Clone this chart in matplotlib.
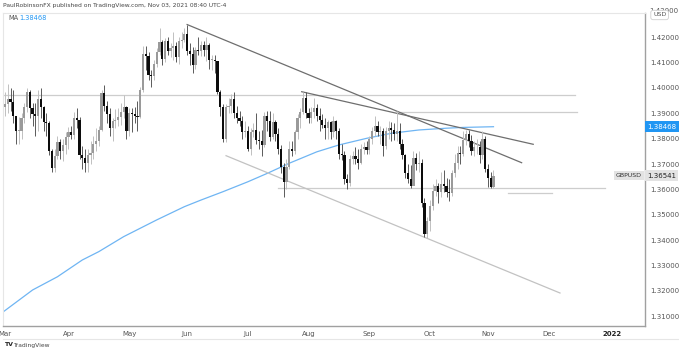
import matplotlib
matplotlib.use('Agg')
import matplotlib.pyplot as plt
from matplotlib.transforms import blended_transform_factory

# ---------------- data (GBPUSD daily, Mar 1 - Nov 3 2021) ----------------
closes = [
    # Mar
    1.3935, 1.3955, 1.3945, 1.3890, 1.3830, 1.3830, 1.3880, 1.3925, 1.3985, 1.3920,
    1.3895, 1.3890, 1.3955, 1.3925, 1.3865, 1.3860, 1.3750, 1.3685, 1.3730, 1.3785,
    1.3750, 1.3775, 1.3805,
    # Apr
    1.3825, 1.3815, 1.3880, 1.3875, 1.3735, 1.3725, 1.3705, 1.3735, 1.3745, 1.3780,
    1.3790, 1.3835, 1.3980, 1.3930, 1.3895, 1.3840, 1.3870, 1.3875, 1.3885, 1.3905,
    1.3925, 1.3830,
    # May
    1.3900, 1.3895, 1.3890, 1.3885, 1.3990, 1.4135, 1.4125, 1.4050, 1.4045, 1.4095,
    1.4140, 1.4180, 1.4115, 1.4185, 1.4145, 1.4155, 1.4165, 1.4120, 1.4185, 1.4190,
    1.4210,
    # Jun
    1.4145, 1.4135, 1.4090, 1.4150, 1.4145, 1.4170, 1.4150, 1.4170, 1.4110, 1.4110,
    1.4105, 1.3985, 1.3925, 1.3800, 1.3925, 1.3930, 1.3955, 1.3900, 1.3880, 1.3870,
    1.3825, 1.3830,
    # Jul
    1.3760, 1.3825, 1.3835, 1.3795, 1.3790, 1.3775, 1.3890, 1.3870, 1.3805, 1.3865,
    1.3820, 1.3760, 1.3690, 1.3630, 1.3690, 1.3760, 1.3750, 1.3825, 1.3880, 1.3905,
    1.3960, 1.3900,
    # Aug
    1.3880, 1.3905, 1.3920, 1.3890, 1.3875, 1.3855, 1.3840, 1.3865, 1.3825, 1.3870,
    1.3830, 1.3740, 1.3735, 1.3640, 1.3625, 1.3720, 1.3730, 1.3720, 1.3705, 1.3760,
    1.3765, 1.3755,
    # Sep
    1.3800, 1.3830, 1.3850, 1.3825, 1.3830, 1.3770, 1.3830, 1.3840, 1.3835, 1.3820,
    1.3830, 1.3780, 1.3735, 1.3665, 1.3640, 1.3615, 1.3725, 1.3700, 1.3705, 1.3545,
    1.3425, 1.3475,
    # Oct
    1.3535, 1.3595, 1.3615, 1.3590, 1.3620, 1.3615, 1.3590, 1.3585, 1.3665, 1.3705,
    1.3745, 1.3740, 1.3795, 1.3820, 1.3790, 1.3750, 1.3765, 1.3765, 1.3735, 1.3800,
    1.3680,
    # Nov
    1.3645, 1.3610, 1.36541,
]
highs = [
    1.3985, 1.4015, 1.4000, 1.3990, 1.3890, 1.3885, 1.3900, 1.3940, 1.4000, 1.3990,
    1.3940, 1.3940, 1.3990, 1.4000, 1.3930, 1.3900, 1.3870, 1.3760, 1.3760, 1.3810,
    1.3800, 1.3800, 1.3825,
    1.3845, 1.3850, 1.3905, 1.3920, 1.3885, 1.3770, 1.3760, 1.3760, 1.3790, 1.3810,
    1.3840, 1.3850, 1.3990, 1.4010, 1.3950, 1.3920, 1.3880, 1.3915, 1.3920, 1.3940,
    1.3970, 1.3930,
    1.3920, 1.3920, 1.3925, 1.3950, 1.4005, 1.4165, 1.4165, 1.4140, 1.4070, 1.4110,
    1.4155, 1.4235, 1.4190, 1.4195, 1.4200, 1.4175, 1.4220, 1.4180, 1.4200, 1.4220,
    1.4235,
    1.4249, 1.4175, 1.4160, 1.4160, 1.4200, 1.4185, 1.4185, 1.4200, 1.4175, 1.4130,
    1.4130, 1.4105, 1.3990, 1.3935, 1.3935, 1.3960, 1.3975, 1.3985, 1.3930, 1.3910,
    1.3890, 1.3870,
    1.3850, 1.3840, 1.3860, 1.3900, 1.3830, 1.3835, 1.3905, 1.3910, 1.3910, 1.3900,
    1.3875, 1.3840, 1.3775, 1.3705, 1.3720, 1.3790, 1.3790, 1.3835, 1.3895, 1.3920,
    1.3985, 1.3985,
    1.3920, 1.3925, 1.3960, 1.3935, 1.3920, 1.3895, 1.3880, 1.3875, 1.3870, 1.3890,
    1.3875, 1.3840, 1.3780, 1.3750, 1.3660, 1.3735, 1.3750, 1.3765, 1.3760, 1.3780,
    1.3785, 1.3790,
    1.3810, 1.3845, 1.3890, 1.3870, 1.3850, 1.3840, 1.3845, 1.3870, 1.3865, 1.3860,
    1.3910, 1.3860, 1.3800, 1.3740, 1.3700, 1.3695, 1.3750, 1.3745, 1.3750, 1.3720,
    1.3565, 1.3490,
    1.3560, 1.3620, 1.3640, 1.3625, 1.3670, 1.3675, 1.3645, 1.3640, 1.3675, 1.3740,
    1.3770, 1.3770, 1.3830, 1.3835, 1.3835, 1.3815, 1.3790, 1.3800, 1.3790, 1.3830,
    1.3810,
    1.3700, 1.3670, 1.3675,
]
lows = [
    1.3890, 1.3900, 1.3910, 1.3860, 1.3780, 1.3780, 1.3800, 1.3860, 1.3905, 1.3880,
    1.3850, 1.3810, 1.3830, 1.3880, 1.3830, 1.3810, 1.3735, 1.3670, 1.3670, 1.3720,
    1.3720, 1.3710, 1.3740,
    1.3760, 1.3800, 1.3800, 1.3840, 1.3720, 1.3680, 1.3670, 1.3670, 1.3700, 1.3720,
    1.3750, 1.3770, 1.3830, 1.3910, 1.3860, 1.3810, 1.3790, 1.3840, 1.3850, 1.3855,
    1.3880, 1.3800,
    1.3810, 1.3825, 1.3860, 1.3830, 1.3880, 1.3985, 1.4070, 1.4030, 1.4005, 1.4030,
    1.4080, 1.4130, 1.4090, 1.4100, 1.4130, 1.4120, 1.4110, 1.4100, 1.4095, 1.4155,
    1.4180,
    1.4130, 1.4090, 1.4060, 1.4075, 1.4130, 1.4125, 1.4125, 1.4105, 1.4075, 1.4070,
    1.4060, 1.3975, 1.3890, 1.3785, 1.3785, 1.3900, 1.3900, 1.3880, 1.3860, 1.3850,
    1.3800, 1.3805,
    1.3750, 1.3735, 1.3805, 1.3780, 1.3760, 1.3730, 1.3765, 1.3830, 1.3790, 1.3800,
    1.3790, 1.3740, 1.3665, 1.3572, 1.3600, 1.3680, 1.3730, 1.3740, 1.3800, 1.3840,
    1.3895, 1.3880,
    1.3860, 1.3860, 1.3880, 1.3870, 1.3830, 1.3840, 1.3800, 1.3800, 1.3800, 1.3805,
    1.3800, 1.3720, 1.3715, 1.3620, 1.3600, 1.3615, 1.3700, 1.3700, 1.3680, 1.3700,
    1.3740, 1.3740,
    1.3740, 1.3780, 1.3810, 1.3810, 1.3780, 1.3730, 1.3760, 1.3800, 1.3790, 1.3795,
    1.3790, 1.3760, 1.3720, 1.3645, 1.3625, 1.3605, 1.3620, 1.3675, 1.3670, 1.3530,
    1.3412, 1.3410,
    1.3435, 1.3520, 1.3575, 1.3545, 1.3570, 1.3590, 1.3570, 1.3555, 1.3575, 1.3650,
    1.3680, 1.3700, 1.3730, 1.3775, 1.3765, 1.3735, 1.3730, 1.3740, 1.3705, 1.3720,
    1.3670,
    1.3610, 1.3605, 1.3605,
]
first_open = 1.3925
opens = [first_open] + closes[:-1]

# moving average (bar index, value)
ma_idx = [-1, 10, 19, 28, 34, 43, 55, 65, 71, 79, 88, 95, 103, 113, 121, 131, 140, 150, 160, 166, 177]
ma_val = [1.3115, 1.3204, 1.3256, 1.3322, 1.3355, 1.3414, 1.3480, 1.3532, 1.3558, 1.3591,
          1.3630, 1.3663, 1.3703, 1.3748, 1.3775, 1.3801, 1.3821, 1.3834, 1.3841, 1.3844, 1.38468]

# time axis labels (bar index of first trading day)
month_labels = ['Mar', 'Apr', 'May', 'Jun', 'Jul', 'Aug', 'Sep', 'Oct', 'Nov', 'Dec', '2022']
month_idx = [0, 23, 45, 66, 88, 110, 132, 154, 175, 197, 220]

price_ticks = [1.31, 1.32, 1.33, 1.34, 1.35, 1.36, 1.37, 1.38, 1.39, 1.40, 1.41, 1.42]

# drawn objects: (x0, y0, x1, y1) in bar index / price
trend_dark = [(66, 1.4249, 187.2, 1.37051), (107.5, 1.39846, 191.4, 1.37776)]
trend_light = [(80.1, 1.37327, 201.1, 1.31921)]
hlines = [(1.3972, -2, 206.5), (1.3906, 143.1, 207.2), (1.3604, 98.9, 217.4), (1.3585, 182.3, 198.1)]

ma_last = 1.38468
last_price = 1.36541

# ---------------- figure ----------------
W, H = 679, 351
fig = plt.figure(figsize=(W / 100, H / 100), dpi=100)
fig.patch.set_facecolor('white')
plt.rcParams['font.family'] = ['DejaVu Sans']

ax_l, ax_r, ax_t, ax_b = 3, 645, 13, 326
ax = fig.add_axes([ax_l / W, 1 - ax_b / H, (ax_r - ax_l) / W, (ax_b - ax_t) / H])
ax.set_facecolor('white')

ax.set_xlim(-0.72, 231.9)
ax.set_ylim(1.30622, 1.42945)

# MA
ax.plot(ma_idx, ma_val, color='#6fb5f3', lw=0.9, zorder=2)

# trend lines
for x0, y0, x1, y1 in trend_dark:
    ax.plot([x0, x1], [y0, y1], color='#6e6e6e', lw=0.9, zorder=3)
for x0, y0, x1, y1 in trend_light:
    ax.plot([x0, x1], [y0, y1], color='#c2c2c2', lw=0.9, zorder=3)
for y, x0, x1 in hlines:
    ax.plot([x0, x1], [y, y], color='#cdcdcd', lw=0.9, zorder=1)

# candles
up_body, up_wick = '#9a9a9a', '#c0c0c0'
dn_body, dn_wick = '#0c0c0c', '#5a5a5a'
n = len(closes)
for i in range(n):
    o, h, l, c = opens[i], highs[i], lows[i], closes[i]
    up = c >= o
    ax.vlines(i, l, h, color=up_wick if up else dn_wick, lw=0.7, zorder=4)
    bottom = min(o, c)
    height = max(abs(c - o), 0.00025)
    ax.bar(i, height, bottom=bottom, width=0.8, color=up_body if up else dn_body,
           linewidth=0, zorder=5)

# axes styling
for s in ['top', 'left']:
    ax.spines[s].set_color('#e6e6e6')
    ax.spines[s].set_linewidth(0.8)
ax.spines['right'].set_color('#a0a0a0')
ax.spines['right'].set_linewidth(1.0)
ax.spines['bottom'].set_color('#a0a0a0')
ax.spines['bottom'].set_linewidth(1.0)

ax.yaxis.tick_right()
ax.set_yticks(price_ticks)
ax.set_yticklabels([f'{p:.5f}' for p in price_ticks])
ax.tick_params(axis='y', length=0, pad=4, labelsize=5, labelcolor='#555555')
ax.set_xticks(month_idx)
ax.set_xticklabels(month_labels)
ax.tick_params(axis='x', length=0, pad=3.5, labelsize=5, labelcolor='#555555')
for lab in ax.get_xticklabels():
    if lab.get_text() == '2022':
        lab.set_color('#222222')
        lab.set_fontweight('bold')

trans = blended_transform_factory(ax.transAxes, ax.transData)
px = 1 / (ax_r - ax_l)

# value tags on the price axis
ax.text(1 + 2 * px, ma_last, f'{ma_last:.5f}', transform=trans, ha='left', va='center',
        fontsize=5, color='white', clip_on=False, zorder=10,
        bbox=dict(boxstyle='square,pad=0.35', fc='#2196f3', ec='none'))
ax.text(1 + 2 * px, last_price, f'{last_price:.5f}', transform=trans, ha='left', va='center',
        fontsize=5, color='#222222', clip_on=False, zorder=10,
        bbox=dict(boxstyle='square,pad=0.35', fc='#e3e3e3', ec='none'))
ax.text(1 - 3 * px, last_price, 'GBPUSD', transform=trans, ha='right', va='center',
        fontsize=4.5, color='#333333', clip_on=False, zorder=10,
        bbox=dict(boxstyle='square,pad=0.35', fc='#e3e3e3', ec='none'))

# top partially hidden label and USD badge (badge sits over the label)
fig.text(649 / W, 1 - 11 / H, '1.43000', fontsize=5, color='#555555', ha='left', va='center',
         zorder=1)
fig.text(653 / W, 1 - 15 / H, 'USD', fontsize=4.5, color='#555555', ha='left', va='center',
         zorder=5, bbox=dict(boxstyle='round,pad=0.35', fc='white', ec='#cfcfcf', lw=0.6))

# header, legend, footer
fig.text(3 / W, 1 - 6 / H, 'PaulRobinsonFX published on TradingView.com, Nov 03, 2021 08:40 UTC-4',
         fontsize=4.3, color='#444444', ha='left', va='center')
fig.text(8 / W, 1 - 18 / H, 'MA', fontsize=4.8, color='#555555', ha='left', va='center')
fig.text(19 / W, 1 - 18 / H, f'{ma_last:.5f}', fontsize=4.8, color='#2196f3', ha='left', va='center')
fig.text(4 / W, 1 - 345 / H, 'TV', fontsize=4.5, color='#222222', ha='left', va='center',
         fontweight='bold')
fig.text(13 / W, 1 - 345 / H, 'TradingView', fontsize=4.3, color='#444444', ha='left', va='center')

# frame line at bottom of time axis
fig.add_artist(plt.Line2D([ax_l / W, 1], [1 - 339 / H, 1 - 339 / H], color='#e6e6e6', lw=0.8))

fig.savefig('out.png', dpi=100)
